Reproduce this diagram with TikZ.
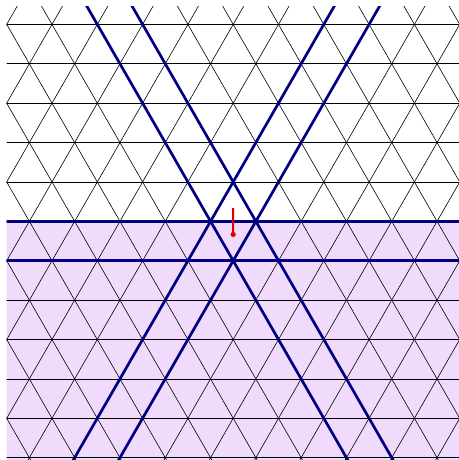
\documentclass[tikz,border=0pt]{standalone}
\definecolor{lav}{RGB}{240,219,252}
\definecolor{navyb}{RGB}{0,0,128}
\definecolor{redv}{RGB}{220,0,0}
\tikzset{
  grid line/.style={black, line width=0.6pt},
  blue line/.style={navyb, line width=2.7pt},
  red vec/.style={redv, line width=2pt},
}
\begin{document}
\begin{tikzpicture}[x=1pt,y=1pt]
\useasboundingbox (0,0) rectangle (458,460);
\begin{scope}
\clip (6.7,0) rectangle (470,453.3);
\fill[lav] (0,0) rectangle (470,238.65);
\begin{scope}[shift={(6.7pt,435.6pt)}, x={(45.3pt,0pt)}, y={(22.65pt,-39.39pt)}]
  % lattice
  \foreach \j in {-1,...,13} \draw[grid line] (-12,\j) -- (20,\j);
  \foreach \i in {-8,...,12} \draw[grid line] (\i,-1) -- (\i,13);
  \foreach \s in {-1,...,23} \draw[grid line] ({\s+1},-1) -- ({\s-13},13);
  % highlighted lines
  \draw[blue line] (-12,5) -- (20,5);
  \draw[blue line] (-12,6) -- (20,6);
  \draw[blue line] (2,-1) -- (2,13);
  \draw[blue line] (3,-1) -- (3,13);
  \draw[blue line] (8,-1) -- (-6,13);
  \draw[blue line] (9,-1) -- (-5,13);
  % red vector
  \coordinate (tail) at ({7/3},{16/3});
  \coordinate (head) at ({8/3},{14/3});
  \draw[red vec] (tail) -- (head);
  \fill[redv] (tail) circle[radius=2.6pt];
\end{scope}
\end{scope}
\end{tikzpicture}
\end{document}
